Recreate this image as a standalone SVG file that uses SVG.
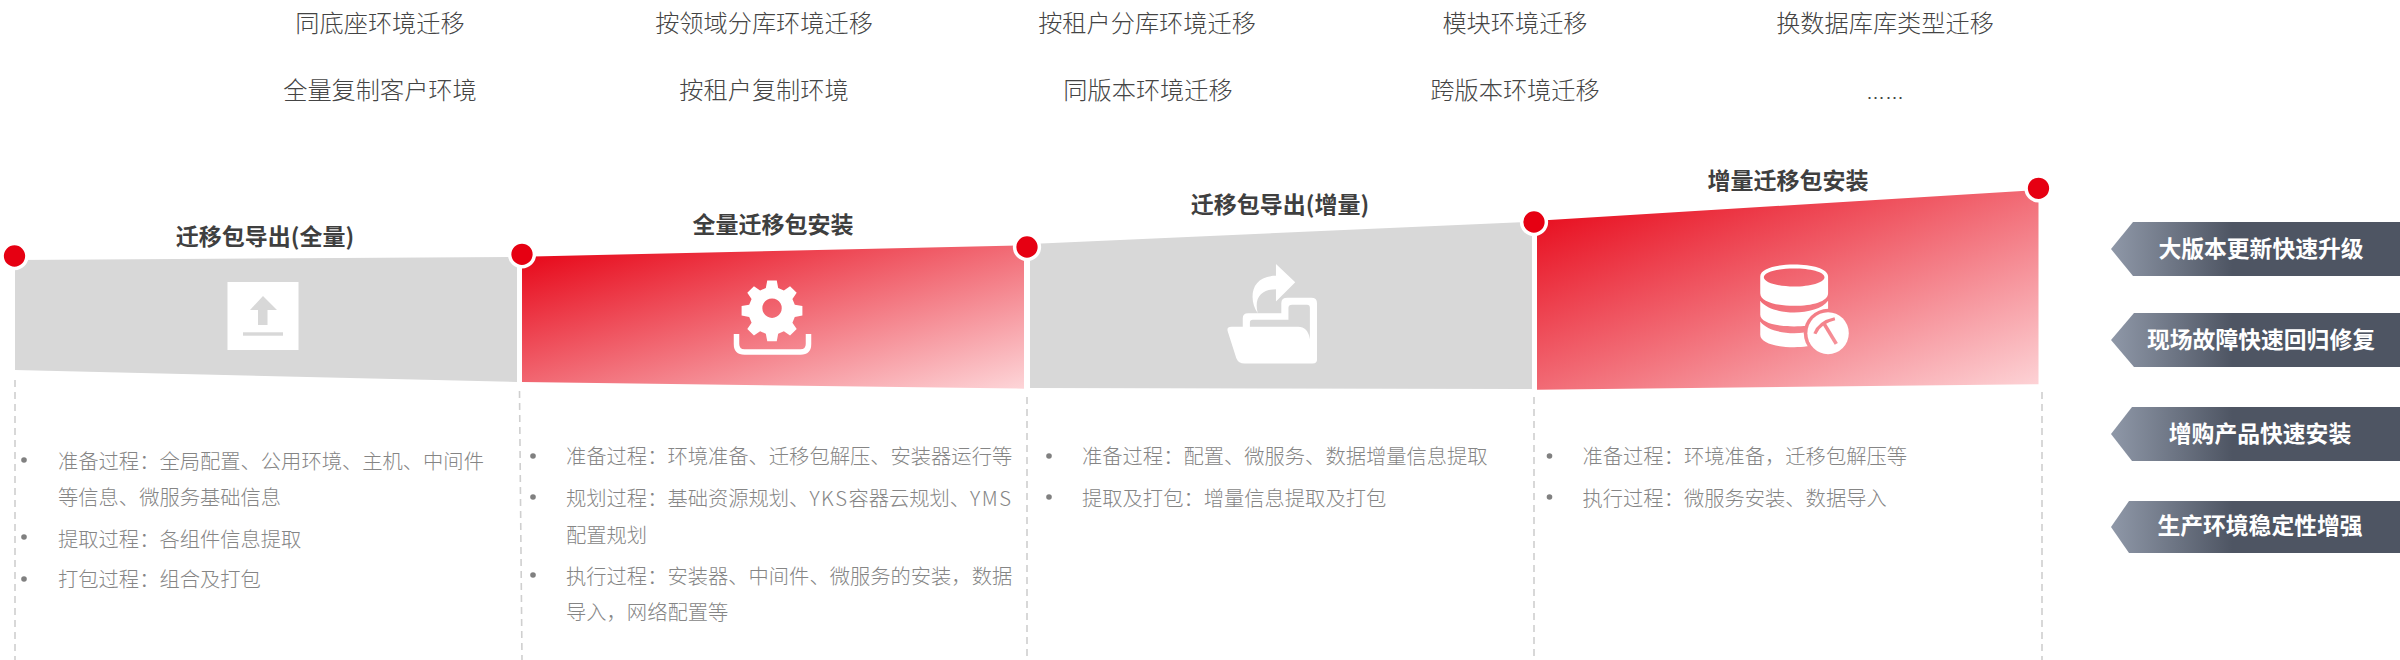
<svg xmlns="http://www.w3.org/2000/svg" width="2400" height="660" viewBox="0 0 2400 660">
<style>
text{font-family:"Noto Sans CJK SC","Noto Sans",sans-serif}
.top{font-size:24.2px;fill:#444;text-anchor:middle;font-weight:300}
.h{font-size:23px;fill:#3f3f3f;text-anchor:middle;font-weight:700}
.b{font-size:20.3px;fill:#858585;font-weight:300}
.a{font-size:22.8px;fill:#fff;text-anchor:middle;font-weight:700}
.dot{fill:#e60012;stroke:#fff;stroke-width:3.5}
.dash{stroke:#cfcfcf;stroke-width:1.6;stroke-dasharray:7 5;fill:none}
.bul{fill:#808080}
.gray{fill:#d8d8d8}
.red{fill:url(#red)}
.tag{fill:url(#tag)}
</style>
<defs>
<linearGradient id="red" x1="0" y1="0" x2="1" y2="1"><stop offset="0" stop-color="#e60012"/><stop offset="1" stop-color="#fdd5d8"/></linearGradient>
<linearGradient id="tag" x1="2111" y1="0" x2="2400" y2="0" gradientUnits="userSpaceOnUse"><stop offset="0" stop-color="#8f98a8"/><stop offset="0.42" stop-color="#4e5563"/><stop offset="1" stop-color="#4e5563"/></linearGradient>
<mask id="ring" maskUnits="userSpaceOnUse" x="700" y="320" width="320" height="320">
<rect x="700" y="320" width="320" height="320" fill="#fff"/>
<ellipse cx="919" cy="550" rx="68" ry="73" fill="#000"/>
</mask>
<mask id="ham" maskUnits="userSpaceOnUse" x="840" y="470" width="160" height="160">
<rect x="840" y="470" width="160" height="160" fill="#fff"/>
<path d="M882 552Q895 517 938 507" fill="none" stroke="#000" stroke-width="9"/>
<path d="M908 522L942 582" fill="none" stroke="#000" stroke-width="10"/>
</mask>
</defs>
<rect width="2400" height="660" fill="#fff"/>
<g id="top-labels">
<text class="top" x="380" y="32">同底座环境迁移</text>
<text class="top" x="764" y="32">按领域分库环境迁移</text>
<text class="top" x="1147" y="32">按租户分库环境迁移</text>
<text class="top" x="1515" y="32">模块环境迁移</text>
<text class="top" x="1885" y="32">换数据库库类型迁移</text>
<text class="top" x="380" y="99">全量复制客户环境</text>
<text class="top" x="764" y="99">按租户复制环境</text>
<text class="top" x="1148" y="99">同版本环境迁移</text>
<text class="top" x="1515" y="99">跨版本环境迁移</text>
<text class="top" style="font-family:'Liberation Sans',sans-serif;font-size:19px" x="1885" y="99">……</text>
</g>
<g id="connectors">
<line class="dash" x1="15" y1="380" x2="15" y2="660"/>
<line class="dash" x1="519.5" y1="391" x2="522" y2="660"/>
<line class="dash" x1="1027" y1="397" x2="1027" y2="660"/>
<line class="dash" x1="1534" y1="397" x2="1534" y2="660"/>
<line class="dash" x1="2042" y1="392" x2="2042" y2="660"/>
</g>
<g id="step-1">
<polygon class="gray" points="15,260 517,257 517,382 15,370"/>
<rect x="227.500" y="282" width="71" height="68" fill="#fff"/>
<polygon class="gray" points="263,296 277,310 267.500,310 267.500,325 258,325 258,310 250,310"/>
<rect class="gray" x="243" y="332.300" width="40" height="3.400"/>
<text class="h" x="265" y="245">迁移包导出(全量)</text>
</g>
<g id="step-2">
<polygon class="red" points="522,256.700 1024,245.300 1024,388.700 522,382"/>
<g transform="translate(772 308) scale(.95) translate(-772 -318)">
<path fill="#fff" fill-rule="evenodd" d="M767 289h10l1.500 8 6 2.500 6.500-4.500 7 7-4.500 6.500 2.500 6 8 1.500v10l-8 1.500-2.500 6 4.500 6.500-7 7-6.500-4.500-6 2.500-1.500 8h-10l-1.500-8-6-2.500-6.500 4.500-7-7 4.500-6.500-2.500-6-8-1.500v-10l8-1.500 2.500-6-4.500-6.500 7-7 6.500 4.500 6-2.500zM772 308a10.200 10.200 0 1 0 .1 0z"/>
</g>
<path d="M736.500 334v10q0 8 8 8h56q8 0 8-8v-10" fill="none" stroke="#fff" stroke-width="5.500"/>
<text class="h" x="773" y="233">全量迁移包安装</text>
</g>
<g id="step-3">
<polygon class="gray" points="1030,244 1532,221.700 1532,389 1030,388"/>
<g transform="translate(1000 150) scale(.357 .333)">
<path fill="#fff" d="M773 342L827 397L773 455V418C735 418 710 440 722 490C696 450 700 378 773 378Z"/>
<path fill="#fff" d="M680 531V505Q680 490 695 490H788V460Q788 444 805 444H872Q888 444 888 460V630Q888 641 876 641H685Q668 641 662 625L638 545Q634 531 648 531Z"/>
<path class="gray" d="M700 531V518Q700 510 708 510H808V474Q808 465 818 465H860Q868 465 868 474V568Q862 531 835 531Z"/>
</g>
<text class="h" x="1280" y="212.500">迁移包导出(增量)</text>
</g>
<g id="step-4">
<polygon class="red" points="1537,220.700 2038.500,190 2038.500,384.300 1537,389.700"/>
<g transform="translate(1500 150) scale(.357 .333)" fill="#fff">
<g mask="url(#ring)">
<path fill-rule="evenodd" d="M729 380C729 356 775 344 824 344S919 356 919 380V430C919 455 875 468 824 468S729 455 729 430ZM739 382C739 398 780 410 824 410S909 398 909 382 868 356 824 356 739 366 739 382Z"/>
<path d="M729 453C745 477 785 488 824 488S903 477 919 453V495C919 518 875 530 824 530S729 518 729 495Z"/>
<path d="M729 515C745 539 785 550 824 550S903 539 919 515V555C919 580 875 592 824 592S729 580 729 555Z"/>
</g>
<ellipse cx="919" cy="550" rx="58" ry="63" mask="url(#ham)"/>
</g>
<text class="h" x="1788" y="189">增量迁移包安装</text>
</g>
<g id="dots">
<circle class="dot" cx="14.500" cy="256" r="12.400"/>
<circle class="dot" cx="522" cy="254.300" r="12.400"/>
<circle class="dot" cx="1027" cy="247" r="12.400"/>
<circle class="dot" cx="1534" cy="222" r="12.400"/>
<circle class="dot" cx="2038.500" cy="188.300" r="12.400"/>
</g>
<g id="list-1">
<circle class="bul" cx="24" cy="460" r="2.800"/><circle class="bul" cx="24" cy="537" r="2.800"/><circle class="bul" cx="24" cy="579" r="2.800"/>
<text class="b" x="58" y="468.500">准备过程：全局配置、公用环境、主机、中间件</text>
<text class="b" x="58" y="505">等信息、微服务基础信息</text>
<text class="b" x="58" y="546.500">提取过程：各组件信息提取</text>
<text class="b" x="58" y="587">打包过程：组合及打包</text>
</g>
<g id="list-2">
<circle class="bul" cx="533" cy="456" r="2.800"/><circle class="bul" cx="533" cy="497" r="2.800"/><circle class="bul" cx="533" cy="575" r="2.800"/>
<text class="b" x="566" y="464">准备过程：环境准备、迁移包解压、安装器运行等</text>
<text class="b" x="566" y="506">规划过程：基础资源规划、<tspan letter-spacing="1.500">YKS</tspan>容器云规划、<tspan letter-spacing="1.500">YMS</tspan></text>
<text class="b" x="566" y="543">配置规划</text>
<text class="b" x="566" y="584">执行过程：安装器、中间件、微服务的安装，数据</text>
<text class="b" x="566" y="620">导入，网络配置等</text>
</g>
<g id="list-3">
<circle class="bul" cx="1049" cy="456" r="2.800"/><circle class="bul" cx="1049" cy="497" r="2.800"/>
<text class="b" x="1082" y="464">准备过程：配置、微服务、数据增量信息提取</text>
<text class="b" x="1082" y="505.500">提取及打包：增量信息提取及打包</text>
</g>
<g id="list-4">
<circle class="bul" cx="1549.500" cy="456" r="2.800"/><circle class="bul" cx="1549.500" cy="497" r="2.800"/>
<text class="b" x="1582.500" y="464">准备过程：环境准备，迁移包解压等</text>
<text class="b" x="1582.500" y="505.500">执行过程：微服务安装、数据导入</text>
</g>
<g id="tag-1"><polygon class="tag" points="2111,249 2133,222 2400,222 2400,276 2133,276"/><text class="a" x="2261" y="257">大版本更新快速升级</text></g>
<g id="tag-2"><polygon class="tag" points="2111,340 2134,313 2400,313 2400,367 2134,367"/><text class="a" x="2261" y="348">现场故障快速回归修复</text></g>
<g id="tag-3"><polygon class="tag" points="2111,434 2132,407 2400,407 2400,461 2132,461"/><text class="a" x="2260" y="442">增购产品快速安装</text></g>
<g id="tag-4"><polygon class="tag" points="2111,527 2129,501 2400,501 2400,553 2129,553"/><text class="a" x="2260" y="534">生产环境稳定性增强</text></g>
</svg>
